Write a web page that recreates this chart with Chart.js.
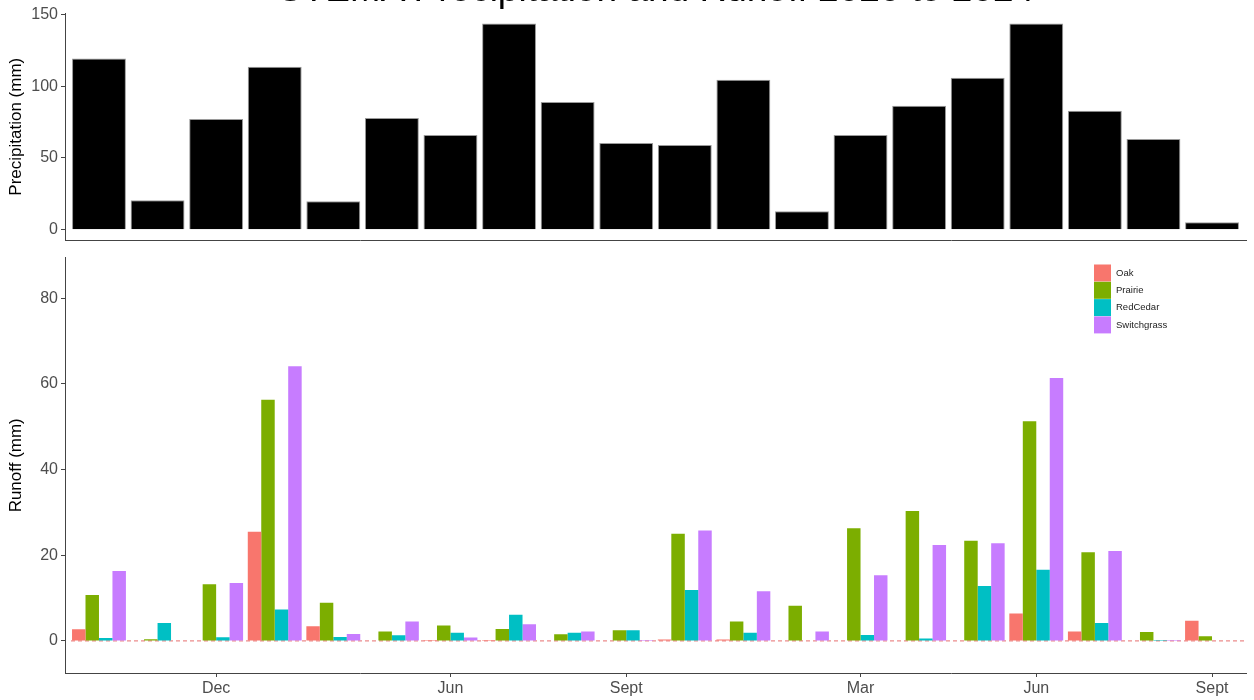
<!DOCTYPE html>
<html>
<head>
<meta charset="utf-8">
<script src="https://cdn.jsdelivr.net/npm/chart.js@4/dist/chart.umd.min.js"></script>
<style>
  html, body { margin:0; padding:0; background:#fff; width:1254px; height:700px; overflow:hidden; position:relative; }
  #title { position:absolute; left:0; width:1312px; top:-30px; text-align:center; font-family:"Liberation Sans", Arial, sans-serif; font-size:37px; line-height:37px; color:#000; white-space:nowrap; }
  #c1 { position:absolute; left:0; top:0; }
  #c2 { position:absolute; left:0; top:245px; }
</style>
</head>
<body>
<canvas id="c1" width="1254" height="253"></canvas>
<canvas id="c2" width="1254" height="455"></canvas>
<div id="title">STEMA Precipitation and Runoff 2020 to 2024</div>
<script>
// ---- data ----
const events = [0,1,2,3,4,5,6,7,8,9,10,11,12,13,14,15,16,17,18,19];
const tickPositions = [2, 6, 9, 13, 16, 19];
const tickLabels = ['Dec', 'Jun', 'Sept', 'Mar', 'Jun', 'Sept'];
const precipTicks = [0, 50, 100, 150];
const runoffTicks = [0, 20, 40, 60, 80];

const precipitation = [119.2, 20.4, 77.2, 113.6, 19.8, 77.9, 66.0, 143.7, 89.0, 60.4,
                       59.0, 104.5, 12.8, 66.0, 86.3, 105.9, 143.7, 82.8, 63.2, 5.1];

const seriesNames = ['Oak', 'Prairie', 'RedCedar', 'Switchgrass'];
const seriesColors = ['#F8766D', '#7CAE00', '#00BFC4', '#C77CFF'];
const oak         = [2.7, 0, 0, 25.5, 3.4, 0, 0.2, 0.2, 0, 0, 0.3, 0.3, 0, 0, 0, 0, 6.4, 2.2, 0, 4.7];
const prairie     = [10.7, 0.4, 13.2, 56.3, 8.9, 2.2, 3.6, 2.8, 1.55, 2.5, 25.0, 4.5, 8.2, 26.3, 30.3, 23.4, 51.3, 20.7, 2.1, 1.1];
const redCedar    = [0.7, 4.2, 0.85, 7.3, 0.9, 1.3, 1.9, 6.1, 1.9, 2.5, 11.9, 1.9, 0.1, 1.4, 0.55, 12.8, 16.6, 4.2, 0.2, 0];
const switchgrass = [16.3, 0, 13.5, 64.1, 1.6, 4.5, 0.8, 3.9, 2.2, 0.2, 25.8, 11.6, 2.2, 15.3, 22.4, 22.8, 61.4, 21.0, 0.2, 0];
const runoffSeries = [oak, prairie, redCedar, switchgrass];

// ---- styling helpers ----
const FONT = '"Liberation Sans", Arial, sans-serif';
const AXIS_COLOR = '#444';
const TICK_COLOR = '#4D4D4D';

function xScale(showLabels) {
  return {
    type: 'linear',
    min: -0.58,
    max: 19.58,
    offset: false,
    afterBuildTicks: (s) => { s.ticks = tickPositions.map(v => ({ value: v })); },
    afterFit: (s) => { s.height = showLabels ? 27 : 5; },
    ticks: {
      display: showLabels,
      autoSkip: false,
      maxRotation: 0,
      padding: 2,
      color: TICK_COLOR,
      font: { family: FONT, size: 16 },
      callback: (v) => { const i = tickPositions.indexOf(v); return i >= 0 ? tickLabels[i] : ''; }
    },
    grid: { display: showLabels, offset: false, drawOnChartArea: false, drawTicks: showLabels, tickLength: 4, color: AXIS_COLOR },
    border: { display: true, color: AXIS_COLOR, width: 1 }
  };
}

function yScale(min, max, ticks, title) {
  return {
    type: 'linear',
    min: min,
    max: max,
    afterBuildTicks: (s) => { s.ticks = ticks.map(v => ({ value: v })); },
    afterFit: (s) => { s.width = 65; },
    ticks: { color: TICK_COLOR, padding: 3, font: { family: FONT, size: 16 } },
    grid: { drawOnChartArea: false, drawTicks: true, tickLength: 4, color: AXIS_COLOR },
    border: { display: true, color: AXIS_COLOR, width: 1 },
    title: { display: true, text: title, color: '#000', font: { family: FONT, size: 17 }, padding: { top: 6, bottom: 0 } }
  };
}

// ---- top: precipitation ----
new Chart(document.getElementById('c1'), {
  type: 'bar',
  data: {
    datasets: [{
      label: 'Precipitation',
      data: events.map((e, i) => ({ x: e, y: precipitation[i] })),
      backgroundColor: '#000',
      borderColor: '#9a9a9a',
      borderWidth: 1,
      categoryPercentage: 0.92,
      barPercentage: 1
    }]
  },
  options: {
    responsive: false,
    animation: false,
    layout: { padding: { top: 13, right: 8, left: 0, bottom: 0 } },
    plugins: { legend: { display: false }, tooltip: { enabled: false }, title: { display: false } },
    scales: { x: xScale(false), y: yScale(-7.5, 151, precipTicks, 'Precipitation (mm)') }
  }
});

// ---- bottom: runoff ----
const zeroLine = {
  id: 'zeroLine',
  beforeDatasetsDraw(chart) {
    const y = chart.scales.y.getPixelForValue(0);
    const a = chart.chartArea;
    const ctx = chart.ctx;
    ctx.save();
    ctx.strokeStyle = 'rgba(230,110,110,0.8)';
    ctx.lineWidth = 1.2;
    ctx.setLineDash([4, 3]);
    ctx.beginPath();
    ctx.moveTo(a.left + 6, y);
    ctx.lineTo(a.right, y);
    ctx.stroke();
    ctx.restore();
  }
};

const insideLegend = {
  id: 'insideLegend',
  afterDraw(chart) {
    const ctx = chart.ctx;
    const x0 = 1094, y0 = 264.5 - 245, size = 17, step = 17.3;
    ctx.save();
    ctx.font = '9.5px ' + FONT;
    ctx.textBaseline = 'middle';
    chart.data.datasets.forEach((ds, i) => {
      const y = y0 + i * step;
      ctx.fillStyle = ds.backgroundColor;
      ctx.fillRect(x0, y, size, size);
      ctx.fillStyle = '#222';
      ctx.fillText(ds.label, x0 + 22, y + size / 2);
    });
    ctx.restore();
  }
};

new Chart(document.getElementById('c2'), {
  type: 'bar',
  data: {
    datasets: seriesNames.map((name, k) => ({
      label: name,
      data: events.map((e, i) => ({ x: e, y: runoffSeries[k][i] })),
      backgroundColor: seriesColors[k],
      borderWidth: 0,
      categoryPercentage: 0.92,
      barPercentage: 1
    }))
  },
  options: {
    responsive: false,
    animation: false,
    layout: { padding: { top: 8, right: 8, left: 0, bottom: 0 } },
    plugins: { legend: { display: false }, tooltip: { enabled: false } },
    scales: { x: xScale(true), y: yScale(-7.5, 89.5, runoffTicks, 'Runoff (mm)') }
  },
  plugins: [zeroLine, insideLegend]
});
</script>
</body>
</html>
